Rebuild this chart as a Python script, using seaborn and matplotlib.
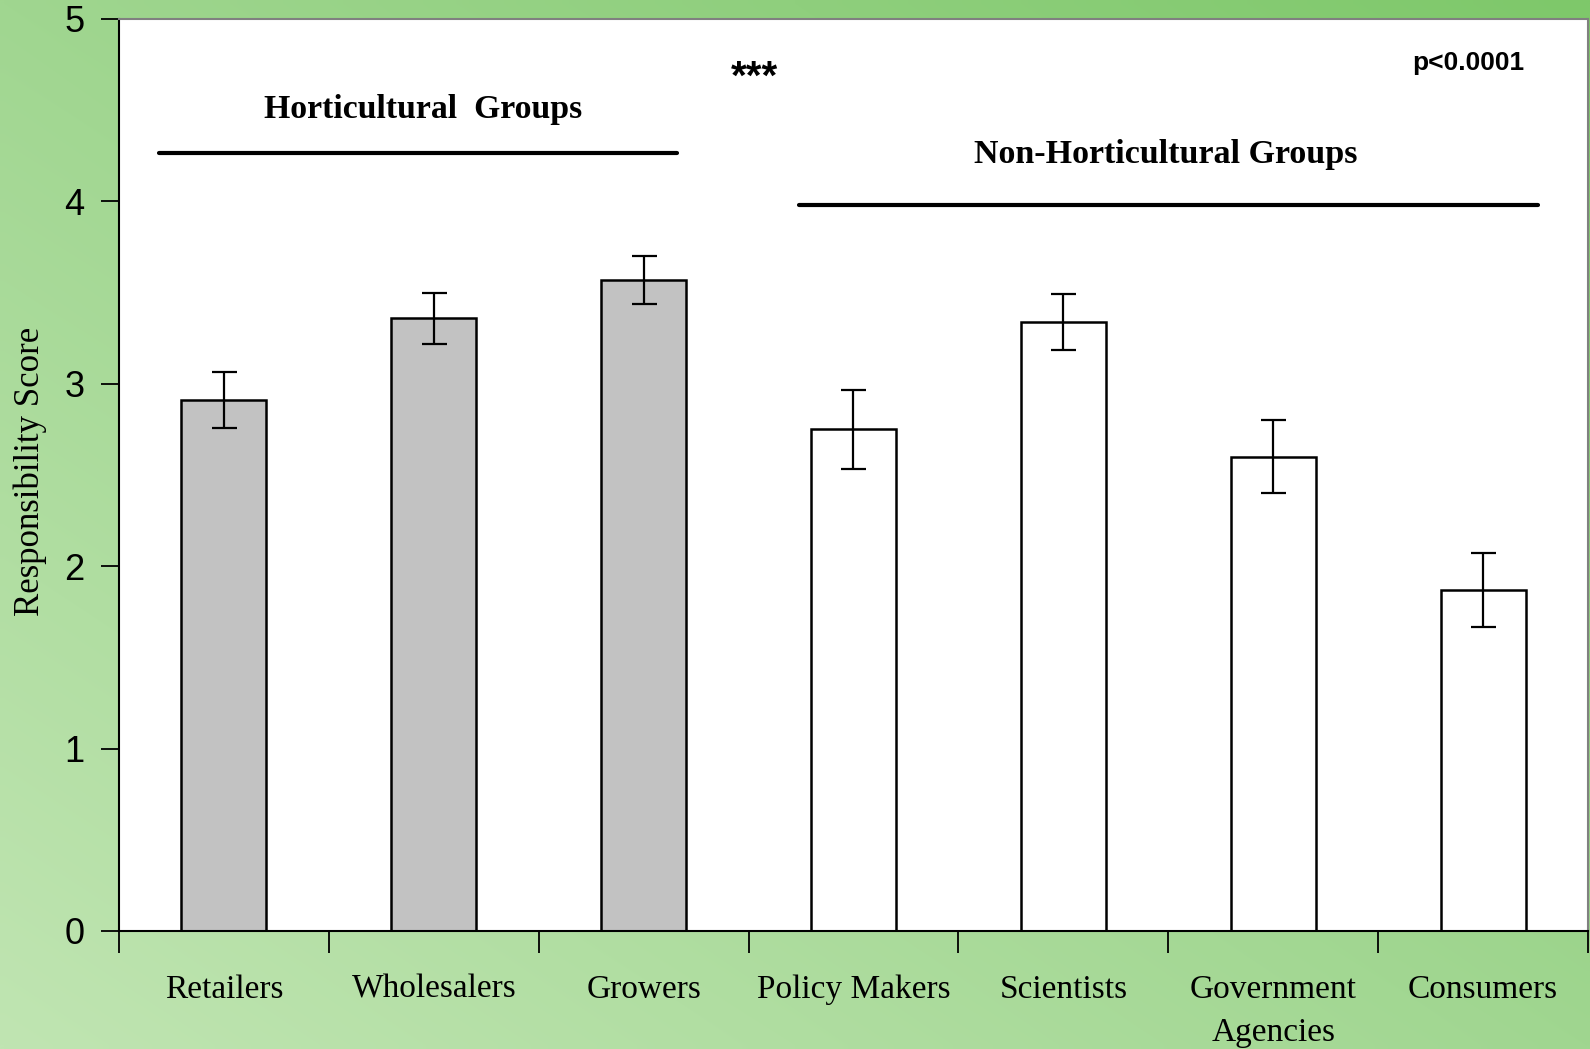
import numpy as np
import pandas as pd
import matplotlib
matplotlib.use("Agg")
import matplotlib.pyplot as plt
import seaborn as sns

# Mean responsibility score and standard error per stakeholder group
categories = ["Retailers", "Wholesalers", "Growers", "Policy Makers",
              "Scientists", "Government\nAgencies", "Consumers"]
scores = [2.91, 3.36, 3.57, 2.75, 3.34, 2.60, 1.87]
errors = [0.155, 0.14, 0.13, 0.215, 0.155, 0.20, 0.205]
groups = ["Horticultural", "Horticultural", "Horticultural",
          "Non-Horticultural", "Non-Horticultural", "Non-Horticultural",
          "Non-Horticultural"]
y_ticks = [0, 1, 2, 3, 4, 5]

df = pd.DataFrame({"category": categories, "score": scores,
                   "err": errors, "group": groups})

sns.set_theme(style="white")
plt.rcParams["font.family"] = ["Liberation Serif", "DejaVu Serif"]
plt.rcParams.update({"text.color": "black", "axes.labelcolor": "black",
                     "xtick.color": "black", "ytick.color": "black"})

fig = plt.figure(figsize=(15.9, 10.49), dpi=100)

# green gradient backdrop
bg = fig.add_axes([0, 0, 1, 1], zorder=-10)
tl = np.array([160, 214, 144]) / 255
tr = np.array([126, 200, 106]) / 255
bl = np.array([192, 229, 178]) / 255
br = np.array([160, 214, 144]) / 255
u = np.linspace(0, 1, 200)[None, :, None]
v = np.linspace(0, 1, 140)[:, None, None]
grad = (1 - v) * ((1 - u) * tl + u * tr) + v * ((1 - u) * bl + u * br)
bg.imshow(grad, aspect="auto", extent=[0, 1, 0, 1], interpolation="bilinear")
bg.set_axis_off()

ax = fig.add_axes([119 / 1590, 1 - 931 / 1049, (1588 - 119) / 1590, (931 - 19) / 1049])
ax.set_facecolor("white")

sns.barplot(data=df, x="category", y="score", hue="group",
            palette={"Horticultural": "#c2c2c2", "Non-Horticultural": "white"},
            edgecolor="black", linewidth=1.8, width=0.405, dodge=False,
            legend=False, ax=ax, errorbar=None)
ax.errorbar(np.arange(len(categories)), scores, yerr=errors, fmt="none",
            ecolor="black", elinewidth=1.6, capsize=9, capthick=1.6, zorder=5)

ax.set_xlim(-0.5, len(categories) - 0.5)
ax.set_ylim(0, 5)
ax.set_yticks(y_ticks)
ax.set_yticklabels([str(t) for t in y_ticks], fontfamily="Liberation Sans", fontsize=26)
ax.tick_params(axis="y", which="major", direction="out", length=13, width=1.3,
               color="black", pad=12, left=True, labelcolor="black")

ax.set_xticks(np.arange(len(categories)))
ax.set_xticklabels(categories, fontsize=24, linespacing=1.55)
ax.tick_params(axis="x", which="major", length=0, pad=31, bottom=False,
               labelcolor="black")
ax.set_xticks(np.arange(-0.5, len(categories)), minor=True)
ax.tick_params(axis="x", which="minor", direction="out", length=16, width=1.3,
               color="black", bottom=True)
ax.set_xlabel("")
ax.set_ylabel("Responsibility Score", fontsize=25, color="black")
ax.yaxis.set_label_coords(-0.049, 0.504)

for side in ["left", "bottom"]:
    ax.spines[side].set_color("black")
    ax.spines[side].set_linewidth(1.5)
for side in ["top", "right"]:
    ax.spines[side].set_color("#808080")
    ax.spines[side].set_linewidth(1.5)

# group annotations
ax.plot([-0.31, 2.16], [4.267, 4.267], color="black", lw=3)
ax.text(0.95, 4.505, "Horticultural  Groups", ha="center", va="center",
        fontsize=24.3, fontweight="bold", color="black")
ax.plot([2.74, 6.26], [3.983, 3.983], color="black", lw=3)
ax.text(4.49, 4.256, "Non-Horticultural Groups", ha="center", va="center",
        fontsize=24.5, fontweight="bold", color="black")
ax.text(2.53, 4.68, "***", ha="center", va="center", fontsize=29,
        fontweight="bold", fontfamily="Liberation Sans", color="black")
ax.text(5.93, 4.76, "p<0.0001", ha="center", va="center", fontsize=19,
        fontweight="bold", fontfamily="Liberation Sans", color="black")

fig.savefig("out.png", dpi=100)
